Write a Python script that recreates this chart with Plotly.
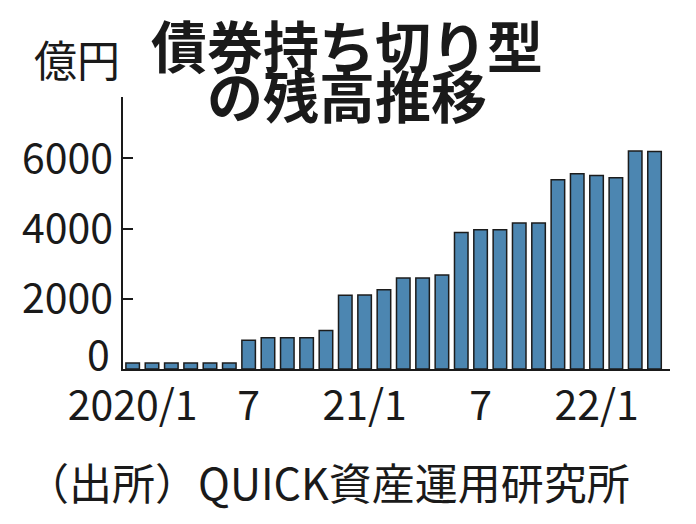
import plotly.graph_objects as go

# 月次残高（億円）
months = ["2020/1", "2020/2", "2020/3", "2020/4", "2020/5", "2020/6",
          "2020/7", "2020/8", "2020/9", "2020/10", "2020/11", "2020/12",
          "2021/1", "2021/2", "2021/3", "2021/4", "2021/5", "2021/6",
          "2021/7", "2021/8", "2021/9", "2021/10", "2021/11", "2021/12",
          "2022/1", "2022/2", "2022/3", "2022/4"]
balance = [170, 170, 170, 170, 170, 170,
           820, 890, 890, 890, 1100, 2100,
           2110, 2260, 2590, 2590, 2680, 3890,
           3970, 3970, 4160, 4160, 5390, 5565,
           5510, 5450, 6210, 6195]

x_tickvals = ["2020/1", "2020/7", "2021/1", "2021/7", "2022/1"]
x_ticktext = ["2020/1", "7", "21/1", "7", "22/1"]
y_tickvals = [2000, 4000, 6000]

narrow = "Liberation Sans Narrow, Noto Sans CJK JP, sans-serif"
jp = "Noto Sans CJK JP, sans-serif"

fig = go.Figure(go.Bar(
    x=months, y=balance,
    marker=dict(color="#4c86b1", line=dict(color="#1c1c1c", width=1.5)),
))

# page body has an 8px margin, so the figure is 16px smaller than the window
fig.update_layout(
    width=680, height=508,
    margin=dict(l=115, r=18, t=89, b=147, autoexpand=False),
    paper_bgcolor="white", plot_bgcolor="white",
    bargap=0.3, showlegend=False,
    font=dict(family=narrow, color="#1a1a1a"),
)
fig.update_xaxes(
    type="category", range=[-0.5, 27.8],
    showline=True, linecolor="#1a1a1a", linewidth=1.5,
    ticks="", showgrid=False,
    tickvals=x_tickvals, ticktext=x_ticktext,
    tickfont=dict(size=41, family=narrow), tickangle=0,
)
fig.update_yaxes(
    range=[0, 7750],
    showline=True, linecolor="#1a1a1a", linewidth=1.5,
    ticks="inside", ticklen=10, tickwidth=1.5, tickcolor="#1a1a1a",
    showgrid=False, zeroline=False,
    tickvals=y_tickvals, ticktext=[str(v) for v in y_tickvals],
    tickfont=dict(size=41, family=narrow),
)

fig.add_annotation(text="0", xref="paper", yref="y", x=-0.0196, y=0,
                   xanchor="right", yanchor="middle", yshift=17,
                   showarrow=False, font=dict(size=41, family=narrow))
fig.add_annotation(text="債券持ち切り型", xref="paper", yref="paper",
                   x=0.41, y=1.198, xanchor="center", yanchor="middle",
                   showarrow=False, font=dict(size=56, family=jp, weight="bold"))
fig.add_annotation(text="の残高推移", xref="paper", yref="paper",
                   x=0.41, y=1.014, xanchor="center", yanchor="middle",
                   showarrow=False, font=dict(size=56, family=jp, weight="bold"))
fig.add_annotation(text="億円", xref="paper", yref="paper",
                   x=-0.0835, y=1.143, xanchor="center", yanchor="middle",
                   showarrow=False, font=dict(size=43, family=jp))
fig.add_annotation(text="（出所）QUICK資産運用研究所", xref="paper", yref="paper",
                   x=0.375, y=-0.41, xanchor="center", yanchor="middle",
                   showarrow=False, font=dict(size=43, family=jp))

fig.write_html("out.html")
